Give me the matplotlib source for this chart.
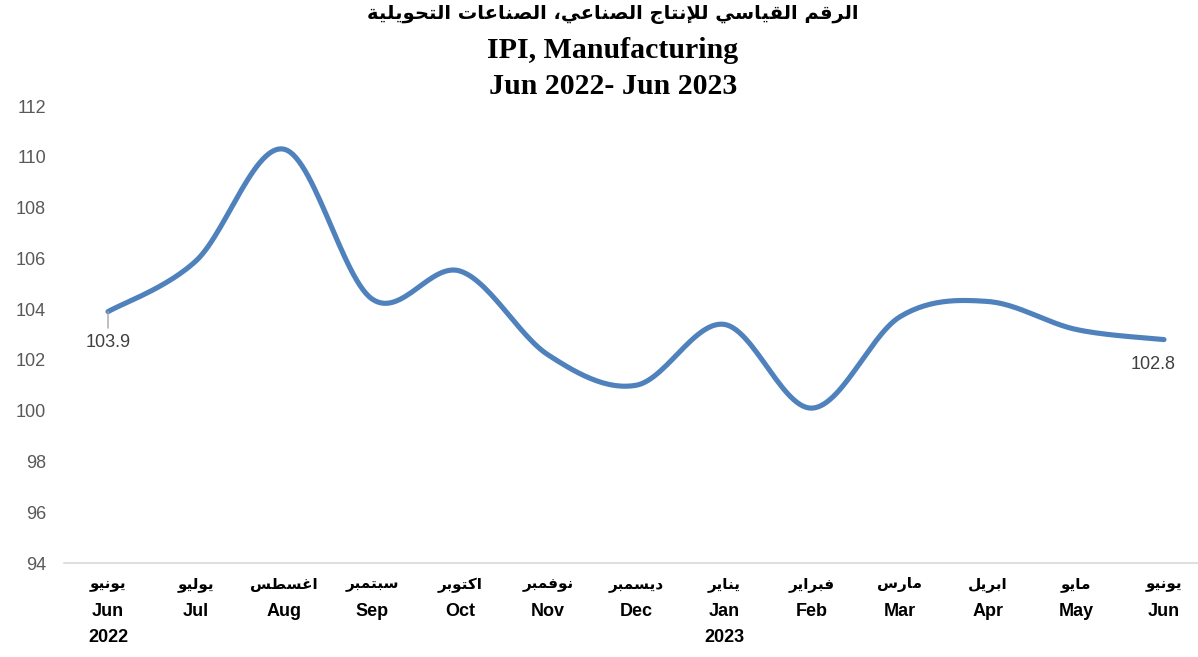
import matplotlib
matplotlib.use("Agg")
import matplotlib.pyplot as plt
import matplotlib.transforms as mtransforms
import numpy as np

# data
months_ar = ["يونيو", "يوليو", "اغسطس", "سبتمبر", "اكتوبر", "نوفمبر", "ديسمبر",
             "يناير", "فبراير", "مارس", "ابريل", "مايو", "يونيو"]
months_en = ["Jun", "Jul", "Aug", "Sep", "Oct", "Nov", "Dec",
             "Jan", "Feb", "Mar", "Apr", "May", "Jun"]
years = ["2022", "", "", "", "", "", "", "2023", "", "", "", "", ""]
ipi = [103.9, 105.9, 110.3, 104.4, 105.5, 102.2, 101.0,
       103.4, 100.1, 103.7, 104.3, 103.2, 102.8]

title_ar = "الرقم القياسي للإنتاج الصناعي، الصناعات التحويلية"
title_en1 = "IPI, Manufacturing"
title_en2 = "Jun 2022- Jun 2023"

# --- small arabic shaper (matplotlib draws no contextual forms) ---
_table = [("ء", 0xFE80, 1), ("آ", 0xFE81, 2), ("أ", 0xFE83, 2), ("ؤ", 0xFE85, 2),
          ("إ", 0xFE87, 2), ("ئ", 0xFE89, 4), ("ا", 0xFE8D, 2), ("ب", 0xFE8F, 4),
          ("ة", 0xFE93, 2), ("ت", 0xFE95, 4), ("ث", 0xFE99, 4), ("ج", 0xFE9D, 4),
          ("ح", 0xFEA1, 4), ("خ", 0xFEA5, 4), ("د", 0xFEA9, 2), ("ذ", 0xFEAB, 2),
          ("ر", 0xFEAD, 2), ("ز", 0xFEAF, 2), ("س", 0xFEB1, 4), ("ش", 0xFEB5, 4),
          ("ص", 0xFEB9, 4), ("ض", 0xFEBD, 4), ("ط", 0xFEC1, 4), ("ظ", 0xFEC5, 4),
          ("ع", 0xFEC9, 4), ("غ", 0xFECD, 4), ("ف", 0xFED1, 4), ("ق", 0xFED5, 4),
          ("ك", 0xFED9, 4), ("ل", 0xFEDD, 4), ("م", 0xFEE1, 4), ("ن", 0xFEE5, 4),
          ("ه", 0xFEE9, 4), ("و", 0xFEED, 2), ("ى", 0xFEEF, 2), ("ي", 0xFEF1, 4)]
FORMS = {c: [chr(s + k) for k in range(n)] for c, s, n in _table}
LAMALEF = {"آ": 0xFEF5, "أ": 0xFEF7, "إ": 0xFEF9, "ا": 0xFEFB}


def shape(txt):
    out = []
    i = 0
    while i < len(txt):
        c = txt[i]
        if c not in FORMS:
            out.append(c)
            i += 1
            continue
        prev = txt[i - 1] if i > 0 else ""
        jp = prev in FORMS and len(FORMS[prev]) == 4
        nxt = txt[i + 1] if i + 1 < len(txt) else ""
        if c == "ل" and nxt in LAMALEF:
            out.append(chr(LAMALEF[nxt] + (1 if jp else 0)))
            i += 2
            continue
        f = FORMS[c]
        jn = len(f) == 4 and nxt in FORMS
        if len(f) == 1:
            out.append(f[0])
        elif jp and jn:
            out.append(f[3])
        elif jp:
            out.append(f[1])
        elif jn:
            out.append(f[2])
        else:
            out.append(f[0])
        i += 1
    return "".join(out)[::-1]


def catmull(xs, ys, n=30):
    # smooth line like the spreadsheet "smoothed line" option
    px = np.r_[xs[0], xs, xs[-1]]
    py = np.r_[ys[0], ys, ys[-1]]
    t = np.linspace(0, 1, n)
    sx, sy = [], []
    for i in range(1, len(px) - 2):
        p0, p1, p2, p3 = px[i - 1], px[i], px[i + 1], px[i + 2]
        q0, q1, q2, q3 = py[i - 1], py[i], py[i + 1], py[i + 2]
        b1x, b1y = p1 + (p2 - p0) / 6, q1 + (q2 - q0) / 6
        b2x, b2y = p2 - (p3 - p1) / 6, q2 - (q3 - q1) / 6
        sx.append((1 - t) ** 3 * p1 + 3 * (1 - t) ** 2 * t * b1x + 3 * (1 - t) * t ** 2 * b2x + t ** 3 * p2)
        sy.append((1 - t) ** 3 * q1 + 3 * (1 - t) ** 2 * t * b1y + 3 * (1 - t) * t ** 2 * b2y + t ** 3 * q2)
    return np.concatenate(sx), np.concatenate(sy)


W, H = 1198, 657
fig = plt.figure(figsize=(W / 100, H / 100), dpi=100)
ax = fig.add_axes([64 / W, 1 - 563 / H, 1 - 64 / W, (563 - 106) / H])

x = np.arange(len(ipi))
sx, sy = catmull(x.astype(float), np.array(ipi))
ax.plot(sx, sy, color="#4F81BD", lw=3.7, solid_capstyle="round")

ax.set_ylim(94, 112)
ax.set_yticks(np.arange(94, 113, 2))
ax.set_xlim(-0.5, -0.5 + (W - 64) / 88)
for s in ["top", "right", "left"]:
    ax.spines[s].set_visible(False)
ax.spines["bottom"].set_color("#d9d9d9")
ax.spines["bottom"].set_linewidth(1.2)

ax.tick_params(axis="y", length=0, pad=13, labelsize=13, labelcolor="#595959")
for lab in ax.get_yticklabels():
    lab.set_family(["Liberation Sans", "DejaVu Sans"])

# category labels: arabic / english / year
ax.set_xticks(x)
ax.set_xticklabels([])
ax.tick_params(axis="x", length=0)
trans = mtransforms.blended_transform_factory(ax.transData, ax.transAxes)
for xi, a, e, y in zip(x, months_ar, months_en, years):
    ax.text(xi, -22 / 457, shape(a), transform=trans, ha="center", va="center",
            fontsize=11, fontweight="bold", family="DejaVu Sans")
    ax.text(xi, -49 / 457, e, transform=trans, ha="center", va="center",
            fontsize=13, fontweight="bold", family="Liberation Sans")
    if y:
        ax.text(xi, -75 / 457, y, transform=trans, ha="center", va="center",
                fontsize=13, fontweight="bold", family="Liberation Sans")

# data labels
ax.annotate(f"{ipi[0]}", xy=(0, ipi[0]), xytext=(0, -22), textcoords="offset points",
            ha="center", va="center", fontsize=13, color="#404040",
            family=["Liberation Sans", "DejaVu Sans"],
            arrowprops=dict(arrowstyle="-", color="#a6a6a6", lw=1, shrinkA=2, shrinkB=0))
ax.annotate(f"{ipi[-1]}", xy=(x[-1], ipi[-1]), xytext=(-8, -18), textcoords="offset points",
            ha="center", va="center", fontsize=13, color="#404040",
            family=["Liberation Sans", "DejaVu Sans"])

# titles
fig.text(613 / W, 1 - 15 / H, shape(title_ar), ha="center", va="center", fontsize=14,
         fontweight="bold", family=["DejaVu Sans"])
fig.text(613 / W, 1 - 50 / H, title_en1, ha="center", va="center", fontsize=21.5,
         fontweight="bold", family="Liberation Serif")
fig.text(613 / W, 1 - 87 / H, title_en2, ha="center", va="center", fontsize=21.5,
         fontweight="bold", family="Liberation Serif")

fig.savefig("out.png", dpi=100)
